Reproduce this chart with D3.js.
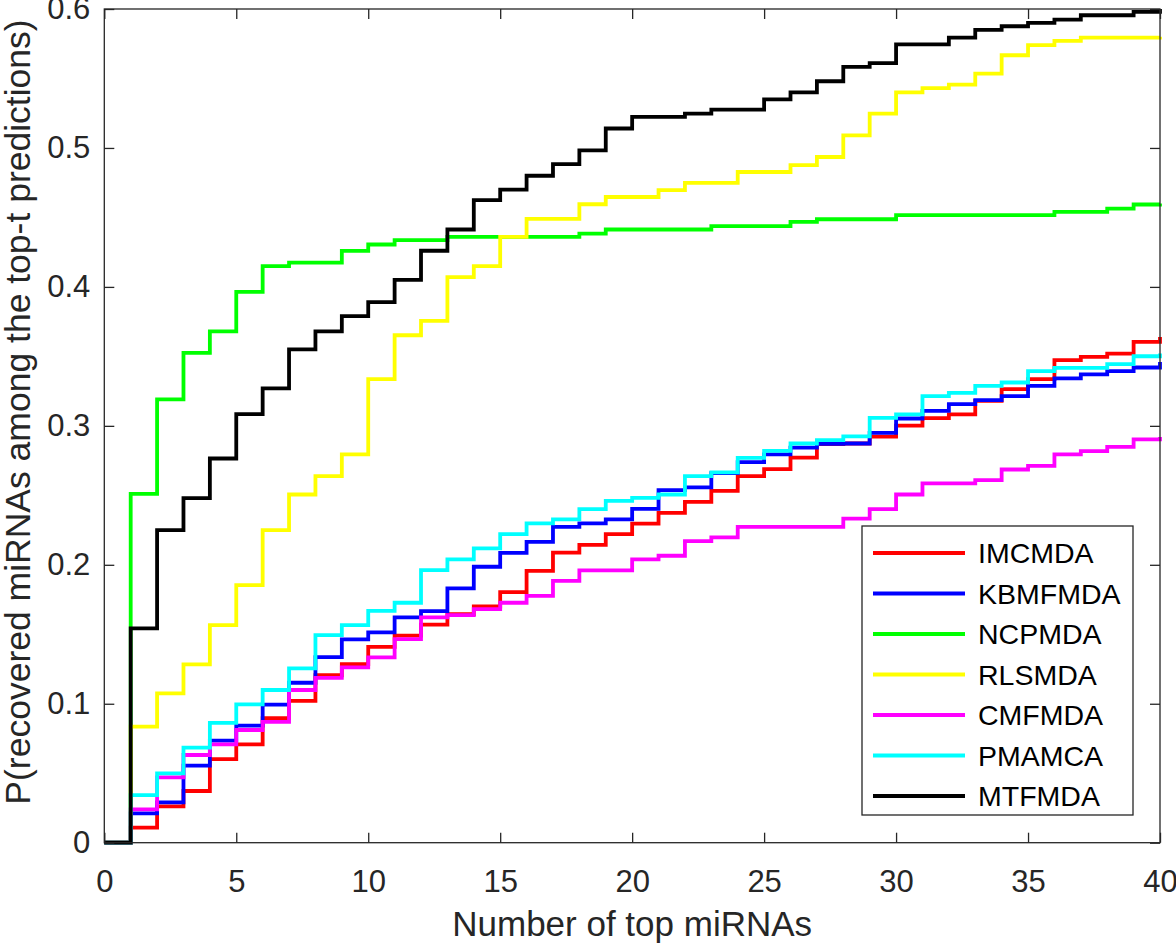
<!DOCTYPE html>
<html>
<head>
<meta charset="utf-8">
<script src="https://cdn.jsdelivr.net/npm/d3@7"></script>
<style>
  html, body { margin: 0; padding: 0; background: #fff; }
  svg { display: block; font-family: "Liberation Sans", Arial, Helvetica, sans-serif; }
</style>
</head>
<body>
<svg id="chart" width="1176" height="944"></svg>
<script>
// ---- data ----
const topT = d3.range(0, 41); // t = 0..40

const seriesNames = ["IMCMDA", "KBMFMDA", "NCPMDA", "RLSMDA", "CMFMDA", "PMAMCA", "MTFMDA"];
const seriesColors = ["#ff0000", "#0000ff", "#00ff00", "#ffff00", "#ff00ff", "#00ffff", "#000000"];

const IMCMDA = [0, 0.0108, 0.0262, 0.0372, 0.0602, 0.0708, 0.0897, 0.1021, 0.1205, 0.1285,
  0.141, 0.149, 0.157, 0.1645, 0.170, 0.1803, 0.1957, 0.2087, 0.2143, 0.2221,
  0.2296, 0.2374, 0.2453, 0.2532, 0.2638, 0.2688, 0.2772, 0.2868, 0.2873, 0.2923,
  0.3002, 0.3055, 0.3083, 0.3180, 0.3264, 0.3336, 0.3473, 0.3497, 0.3520, 0.3604, 0.3640];

const KBMFMDA = [0, 0.0211, 0.0290, 0.0554, 0.0734, 0.0842, 0.0993, 0.1151, 0.1335, 0.1463,
  0.1514, 0.1622, 0.1667, 0.1830, 0.1986, 0.2086, 0.2165, 0.2273, 0.2298, 0.2327,
  0.2403, 0.2537, 0.2557, 0.2660, 0.2739, 0.2794, 0.2844, 0.2870, 0.2873, 0.2950,
  0.3053, 0.3108, 0.3156, 0.3185, 0.3214, 0.3288, 0.3341, 0.3370, 0.3394, 0.3420, 0.3460];

const NCPMDA = [0, 0.251, 0.319, 0.3525, 0.368, 0.3964, 0.415, 0.4175, 0.4175, 0.4259,
  0.4305, 0.4336, 0.4336, 0.436, 0.436, 0.436, 0.436, 0.436, 0.4384, 0.4413,
  0.4413, 0.4413, 0.4413, 0.4437, 0.4437, 0.4437, 0.4468, 0.4487, 0.4487, 0.4487,
  0.4516, 0.4516, 0.4516, 0.4516, 0.4516, 0.4516, 0.454, 0.454, 0.4564, 0.4593, 0.460];

const RLSMDA = [0, 0.0835, 0.1075, 0.1283, 0.1566, 0.1854, 0.225, 0.2506, 0.2638, 0.2794,
  0.3336, 0.3652, 0.3755, 0.407, 0.415, 0.436, 0.449, 0.449, 0.4595, 0.4647,
  0.4647, 0.4696, 0.4748, 0.4748, 0.4827, 0.4827, 0.4876, 0.4935, 0.509, 0.5247,
  0.540, 0.543, 0.5456, 0.5535, 0.5667, 0.574, 0.577, 0.5794, 0.5794, 0.5794, 0.580];

const CMFMDA = [0, 0.024, 0.047, 0.0631, 0.0708, 0.0811, 0.087, 0.1099, 0.1186, 0.1262,
  0.1334, 0.1465, 0.1622, 0.1638, 0.1681, 0.1727, 0.1777, 0.1885, 0.1960, 0.1960,
  0.2039, 0.2065, 0.2170, 0.2197, 0.2273, 0.2273, 0.2273, 0.2273, 0.2332, 0.2401,
  0.2506, 0.2586, 0.2586, 0.2610, 0.2686, 0.2712, 0.2794, 0.2818, 0.2849, 0.2902, 0.2920];

const PMAMCA = [0, 0.0343, 0.0499, 0.0684, 0.0863, 0.0996, 0.1099, 0.1255, 0.1494, 0.1566,
  0.1669, 0.1727, 0.1962, 0.2039, 0.2118, 0.2221, 0.2298, 0.2327, 0.2401, 0.2460,
  0.2482, 0.2506, 0.2638, 0.2665, 0.2770, 0.2820, 0.2873, 0.2897, 0.2924, 0.3058,
  0.3082, 0.3214, 0.3237, 0.3288, 0.3312, 0.3394, 0.3417, 0.3417, 0.3444, 0.3501, 0.3520];

const MTFMDA = [0, 0.1542, 0.225, 0.248, 0.2765, 0.3084, 0.327, 0.355, 0.368, 0.379,
  0.389, 0.405, 0.426, 0.4413, 0.4624, 0.470, 0.480, 0.4883, 0.4983, 0.514,
  0.5223, 0.5223, 0.5247, 0.5276, 0.5276, 0.535, 0.540, 0.548, 0.5583, 0.561,
  0.5746, 0.5746, 0.5794, 0.585, 0.5876, 0.590, 0.5924, 0.5955, 0.5955, 0.598, 0.600];

const seriesValues = [IMCMDA, KBMFMDA, NCPMDA, RLSMDA, CMFMDA, PMAMCA, MTFMDA];

const xTicks = [0, 5, 10, 15, 20, 25, 30, 35, 40];
const yTicks = [0, 0.1, 0.2, 0.3, 0.4, 0.5, 0.6];
const yTickLabels = ["0", "0.1", "0.2", "0.3", "0.4", "0.5", "0.6"];
const xTitle = "Number of top miRNAs";
const yTitle = "P(recovered miRNAs among the top-t predictions)";

// ---- layout ----
const L = 104.3, R = 1160, T = 9, B = 842.7;
const axisColor = "#262626";
const svg = d3.select("#chart");

const x = d3.scaleLinear().domain([0, 40]).range([L, R]);
const y = d3.scaleLinear().domain([0, 0.6]).range([B, T]);

// series
const line = d3.line()
  .x((d, i) => x(topT[i]))
  .y(d => y(d))
  .curve(d3.curveStepAfter);

const gLines = svg.append("g");
seriesValues.forEach((vals, k) => {
  gLines.append("path")
    .attr("d", line(vals))
    .attr("fill", "none")
    .attr("stroke", seriesColors[k])
    .attr("stroke-width", 3.8)
    .attr("stroke-linejoin", "miter")
    .attr("stroke-linecap", "butt");
});

// axes
function styleAxis(g) {
  g.select(".domain").remove();
  g.selectAll(".tick line").attr("stroke", axisColor).attr("stroke-width", 1.3);
  g.selectAll(".tick text").attr("fill", axisColor).attr("font-size", 31);
}
svg.append("g").attr("transform", `translate(0,${B})`)
  .call(d3.axisBottom(x).tickValues(xTicks).tickSize(-10).tickPadding(27).tickFormat(d3.format("d")))
  .call(styleAxis);
svg.append("g").attr("transform", `translate(0,${T})`)
  .call(d3.axisTop(x).tickValues(xTicks).tickSize(-10).tickFormat(""))
  .call(styleAxis);
svg.append("g").attr("transform", `translate(${L},0)`)
  .call(d3.axisLeft(y).tickValues(yTicks).tickSize(-10).tickPadding(14).tickFormat((d, i) => yTickLabels[i]))
  .call(styleAxis);
svg.append("g").attr("transform", `translate(${R},0)`)
  .call(d3.axisRight(y).tickValues(yTicks).tickSize(-10).tickFormat(""))
  .call(styleAxis);

svg.append("rect")
  .attr("x", L).attr("y", T).attr("width", R - L).attr("height", B - T)
  .attr("fill", "none").attr("stroke", axisColor).attr("stroke-width", 1.3);

// titles
svg.append("text")
  .attr("x", (L + R) / 2).attr("y", 936)
  .attr("text-anchor", "middle").attr("fill", axisColor).attr("font-size", 35)
  .text(xTitle);
svg.append("text")
  .attr("transform", `translate(30,412) rotate(-90)`)
  .attr("text-anchor", "middle").attr("fill", axisColor).attr("font-size", 35.5)
  .text(yTitle);

// legend
const lg = svg.append("g");
lg.append("rect")
  .attr("x", 862).attr("y", 526).attr("width", 271).attr("height", 289)
  .attr("fill", "#fff").attr("stroke", axisColor).attr("stroke-width", 1.3);
seriesNames.forEach((name, k) => {
  const yy = 553 + k * 40.5;
  lg.append("line")
    .attr("x1", 873).attr("x2", 965).attr("y1", yy).attr("y2", yy)
    .attr("stroke", seriesColors[k]).attr("stroke-width", 3.8);
  lg.append("text")
    .attr("x", 978).attr("y", yy).attr("dy", "0.36em")
    .attr("fill", "#000").attr("font-size", 28.5)
    .text(name);
});
</script>
</body>
</html>
